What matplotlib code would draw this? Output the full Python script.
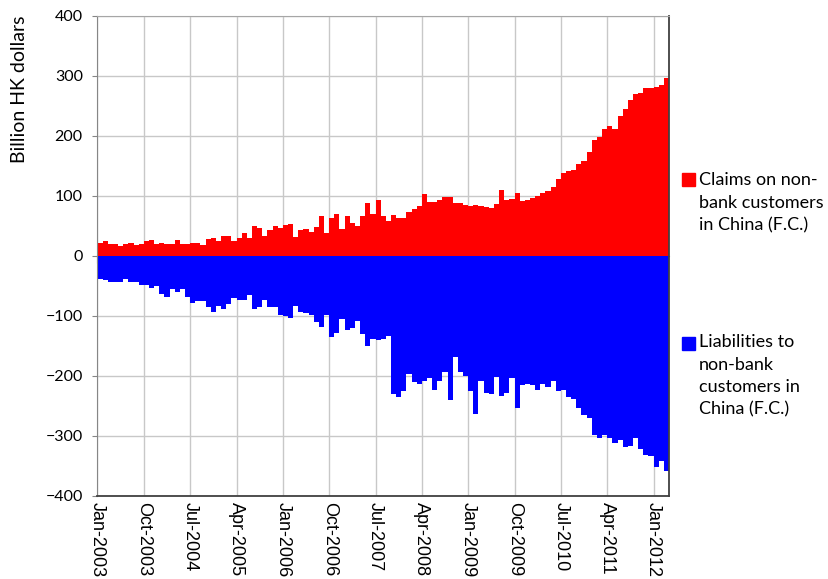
import matplotlib
matplotlib.use("Agg")
import numpy as np
import matplotlib.pyplot as plt
from matplotlib.patches import Rectangle

# monthly, Jan-2003 .. Mar-2012 (billion HK$)
claims = [21, 25, 20, 20, 17, 20, 22, 18, 20,
          25, 27, 20, 22, 20, 20, 27, 20, 20,
          22, 22, 18, 28, 30, 25, 33, 33, 25,
          30, 38, 30, 50, 47, 33, 43, 50, 47,
          52, 53, 32, 43, 45, 40, 48, 67, 38,
          63, 70, 45, 67, 55, 50, 67, 87, 70,
          93, 67, 58, 68, 63, 63, 73, 78, 82,
          103, 90, 90, 93, 98, 97, 88, 87, 85,
          83, 84, 83, 81, 79, 86, 109, 93, 94,
          104, 91, 93, 96, 99, 104, 108, 114, 128,
          138, 141, 143, 153, 158, 173, 193, 198, 211,
          216, 211, 233, 244, 259, 269, 271, 279, 279,
          281, 284, 296]

liabilities = [-39, -41, -43, -43, -43, -39, -43, -43, -49,
               -49, -53, -51, -63, -69, -56, -61, -56, -69,
               -78, -76, -76, -86, -93, -84, -89, -81, -71,
               -73, -73, -66, -89, -86, -73, -86, -86, -99,
               -101, -103, -84, -93, -96, -98, -111, -119, -99,
               -136, -128, -105, -123, -121, -108, -131, -151, -138,
               -140, -138, -134, -231, -236, -226, -197, -211, -213,
               -209, -203, -224, -209, -194, -241, -169, -194, -201,
               -226, -263, -208, -228, -231, -202, -233, -228, -203,
               -254, -216, -213, -216, -224, -213, -218, -209, -226,
               -224, -236, -239, -254, -266, -271, -298, -303, -299,
               -304, -311, -306, -318, -316, -304, -321, -331, -333,
               -351, -341, -358]

tick_labels = ['Jan-2003', 'Oct-2003', 'Jul-2004', 'Apr-2005', 'Jan-2006',
               'Oct-2006', 'Jul-2007', 'Apr-2008', 'Jan-2009', 'Oct-2009',
               'Jul-2010', 'Apr-2011', 'Jan-2012']

claims_label = 'Claims on non-\nbank customers\nin China (F.C.)'
liab_label = 'Liabilities to\nnon-bank\ncustomers in\nChina (F.C.)'

x = np.arange(len(claims))
ticks = np.arange(0, len(claims), 9)

fig = plt.figure(figsize=(8.29, 5.79), dpi=100)
ax = fig.add_axes([0.1176, 0.1434, 0.6894, 0.8298])

ax.bar(x, claims, width=1.0, align='edge', color='#ff0000', linewidth=0)
ax.bar(x, liabilities, width=1.0, align='edge', color='#0000ff', linewidth=0)

ax.set_xlim(0, len(claims))
ax.set_ylim(-400, 400)
ax.set_yticks(np.arange(-400, 401, 100))
ax.set_xticks(ticks)
ax.set_xticklabels(tick_labels, rotation=270, fontsize=13, family='Liberation Sans')
ax.tick_params(axis='x', length=0, pad=4.5)
ax.tick_params(axis='y', length=3.6, pad=7, color='#868686', labelsize=11.5)
for t in ax.get_yticklabels():
    t.set_family('Lato')

ax.grid(True, color='#c8c8c8', linewidth=1)
ax.set_axisbelow(True)

ax.spines['left'].set_color('#868686')
ax.spines['top'].set_color('#a6a6a6')
ax.spines['bottom'].set_color('#404040')
ax.spines['right'].set_color('#404040')
ax.spines['bottom'].set_linewidth(1.3)
ax.spines['right'].set_linewidth(1.3)

# zero axis with small tick marks
zero = ax.secondary_xaxis(0, transform=ax.transData)
zero.set_xticks(ticks)
zero.tick_params(length=5, color='#868686', labelbottom=False, labeltop=False)
for s in zero.spines.values():
    s.set_color('#868686')

ax.set_ylabel('Billion HK dollars', loc='top', fontsize=14, family='Lato')
ax.yaxis.set_label_coords(-0.122, 1.0)

# legend drawn by hand, like the original
fig.patches.append(Rectangle((682 / 829, 1 - 186 / 579), 13 / 829, 13 / 579,
                             transform=fig.transFigure, color='#ff0000'))
fig.text(699 / 829, 1 - 172 / 579, claims_label, va='top', ha='left',
         fontsize=13, family='Lato', linespacing=1.5)
fig.patches.append(Rectangle((682 / 829, 1 - 350 / 579), 13 / 829, 13 / 579,
                             transform=fig.transFigure, color='#0000ff'))
fig.text(699 / 829, 1 - 334 / 579, liab_label, va='top', ha='left',
         fontsize=13, family='Lato', linespacing=1.5)

fig.savefig('out.png', dpi=100)
